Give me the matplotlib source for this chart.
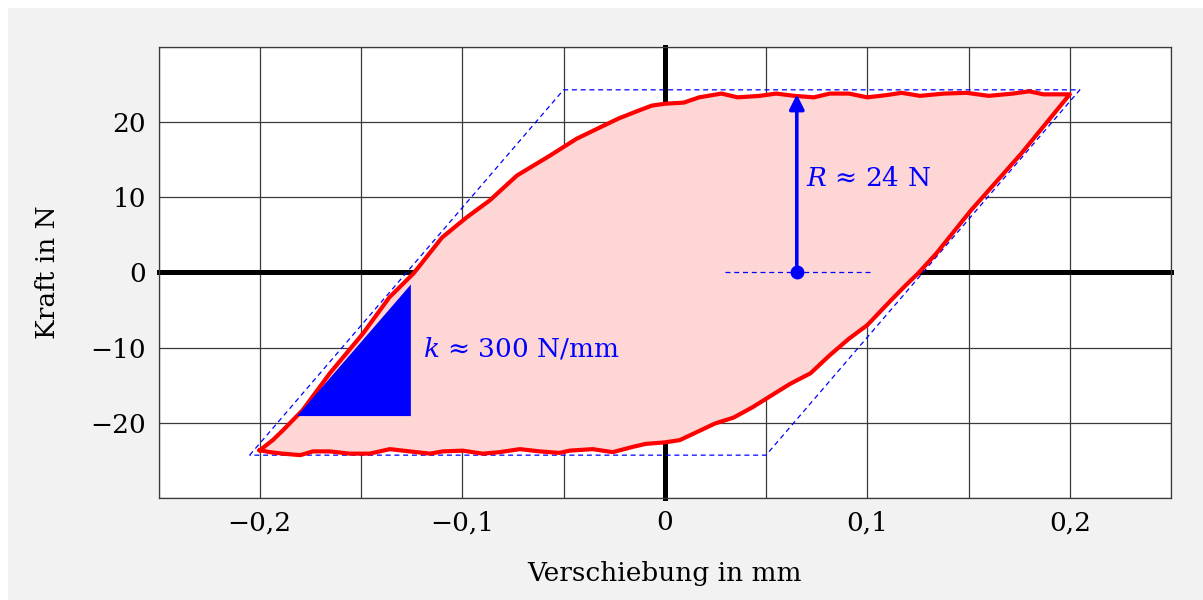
import numpy as np
import matplotlib.pyplot as plt
from matplotlib.patches import Polygon, Rectangle

# Hysteresis loop: load branch (going right) and unload branch (going left)
x_up = [-0.200, -0.1936, -0.1886, -0.1788, -0.1654, -0.149, -0.136, -0.124, -0.110, -0.098,
        -0.0864, -0.073, -0.057, -0.0435, -0.032, -0.0227, -0.0133, -0.0064, 0.0, 0.0094,
        0.017, 0.028, 0.036, 0.047, 0.055, 0.064, 0.0736, 0.0815, 0.091, 0.100,
        0.1096, 0.117, 0.126, 0.138, 0.149, 0.160, 0.172, 0.180, 0.187, 0.200]
y_up = [-23.65, -22.3, -21.0, -18.3, -13.4, -8.1, -3.3, -0.1, 4.65, 7.3,
        9.6, 12.9, 15.5, 17.8, 19.3, 20.5, 21.5, 22.2, 22.45, 22.6,
        23.3, 23.8, 23.3, 23.5, 23.8, 23.5, 23.3, 23.8, 23.8, 23.3,
        23.6, 23.9, 23.5, 23.8, 23.9, 23.5, 23.8, 24.1, 23.7, 23.7]

x_down = [0.200, 0.176, 0.151, 0.134, 0.1248, 0.119, 0.1117, 0.100, 0.091, 0.0815,
          0.072, 0.062, 0.053, 0.0435, 0.034, 0.0247, 0.0153, 0.0074, 0.0, -0.0094,
          -0.0158, -0.0257, -0.0356, -0.047, -0.052, -0.0617, -0.0716, -0.0815, -0.0899, -0.0998,
          -0.1096, -0.116, -0.126, -0.1358, -0.1457, -0.1556, -0.1654, -0.1738, -0.180, -0.1886,
          -0.195, -0.200]
y_down = [23.7, 15.8, 8.2, 2.5, -0.2, -1.7, -3.7, -7.0, -8.8, -11.0,
          -13.4, -14.8, -16.3, -17.9, -19.3, -20.1, -21.3, -22.3, -22.6, -22.8,
          -23.2, -23.9, -23.5, -23.7, -24.0, -23.8, -23.5, -23.9, -24.1, -23.7,
          -23.8, -24.1, -23.8, -23.5, -24.1, -24.1, -23.8, -23.8, -24.3, -24.1,
          -23.9, -23.65]

# idealised parallelogram (stiffness k, friction force R)
para_x = [-0.205, -0.05, 0.205, 0.05, -0.205]
para_y = [-24.3, 24.3, 24.3, -24.3, -24.3]

# slope triangle
tri_x = [-0.1816, -0.1254, -0.1254]
tri_y = [-19.1, -1.6, -19.1]

R_x = 0.0652
R_val = 23.7

xticks = [-0.2, -0.1, 0.0, 0.1, 0.2]
xtick_labels = ['\u22120,2', '\u22120,1', '0', '0,1', '0,2']
yticks = [-20, -10, 0, 10, 20]
ytick_labels = ['\u221220', '\u221210', '0', '10', '20']

plt.rcParams['font.family'] = 'DejaVu Serif'
plt.rcParams['mathtext.fontset'] = 'dejavuserif'
plt.rcParams['font.size'] = 19

fig = plt.figure(figsize=(12.03, 6.0), dpi=100, facecolor='white')
fig.add_artist(Rectangle((8 / 1203, 0), 1, 592 / 600, transform=fig.transFigure,
                         facecolor='#f2f2f2', edgecolor='none', zorder=0))
ax = fig.add_axes([0.1318, 0.17, 0.8416, 0.7517])
ax.set_facecolor('white')

ax.set_xlim(-0.25, 0.25)
ax.set_ylim(-30, 30)
ax.set_xticks(xticks)
ax.set_xticklabels(xtick_labels)
ax.set_yticks(yticks)
ax.set_yticklabels(ytick_labels)
ax.set_xticks(np.arange(-0.25, 0.26, 0.05), minor=True)
ax.set_yticks(np.arange(-30, 31, 10), minor=True)
ax.tick_params(which='both', length=0)
ax.tick_params(axis='x', pad=9)
ax.tick_params(axis='y', pad=9)
ax.grid(which='both', color='#3a3a3a', lw=0.9)
ax.set_axisbelow(True)
for s in ax.spines.values():
    s.set_color('#3a3a3a')
    s.set_linewidth(0.9)

# thick coordinate axes
ax.axhline(0, color='black', lw=3.6, zorder=1.5, clip_on=False)
ax.axvline(0, color='black', lw=3.6, zorder=1.5, clip_on=False)

# loop area
loop_x = x_up + x_down[1:]
loop_y = y_up + y_down[1:]
ax.fill(loop_x, loop_y, color='#ffd6d6', zorder=2)

ax.plot(para_x, para_y, color='blue', lw=0.9, ls=(0, (4, 3)), zorder=3)
ax.plot(loop_x, loop_y, color='red', lw=3.0, zorder=4, solid_joinstyle='round')

ax.add_patch(Polygon(list(zip(tri_x, tri_y)), closed=True, facecolor='blue',
                     edgecolor='none', zorder=5))
ax.text(-0.1195, -10.1, r'$k$ ≈ 300 N/mm', color='blue', va='center', ha='left', zorder=6)

# friction force arrow
ax.plot([0.0299, 0.103], [0, 0], color='blue', lw=0.9, ls=(0, (4, 3)), zorder=5)
ax.annotate('', xy=(R_x, R_val), xytext=(R_x, 0),
            arrowprops=dict(arrowstyle='-|>', color='blue', lw=2.6, mutation_scale=22,
                            shrinkA=0, shrinkB=0), zorder=6)
ax.plot([R_x], [0], 'o', color='blue', ms=9, zorder=7)
ax.text(0.0696, 12.5, r'$R$ ≈ 24 N', color='blue', va='center', ha='left', zorder=6)

ax.set_xlabel('Verschiebung in mm', labelpad=18)
ax.set_ylabel('Kraft in N', labelpad=22)

fig.savefig('out.png', dpi=100, facecolor=fig.get_facecolor())
